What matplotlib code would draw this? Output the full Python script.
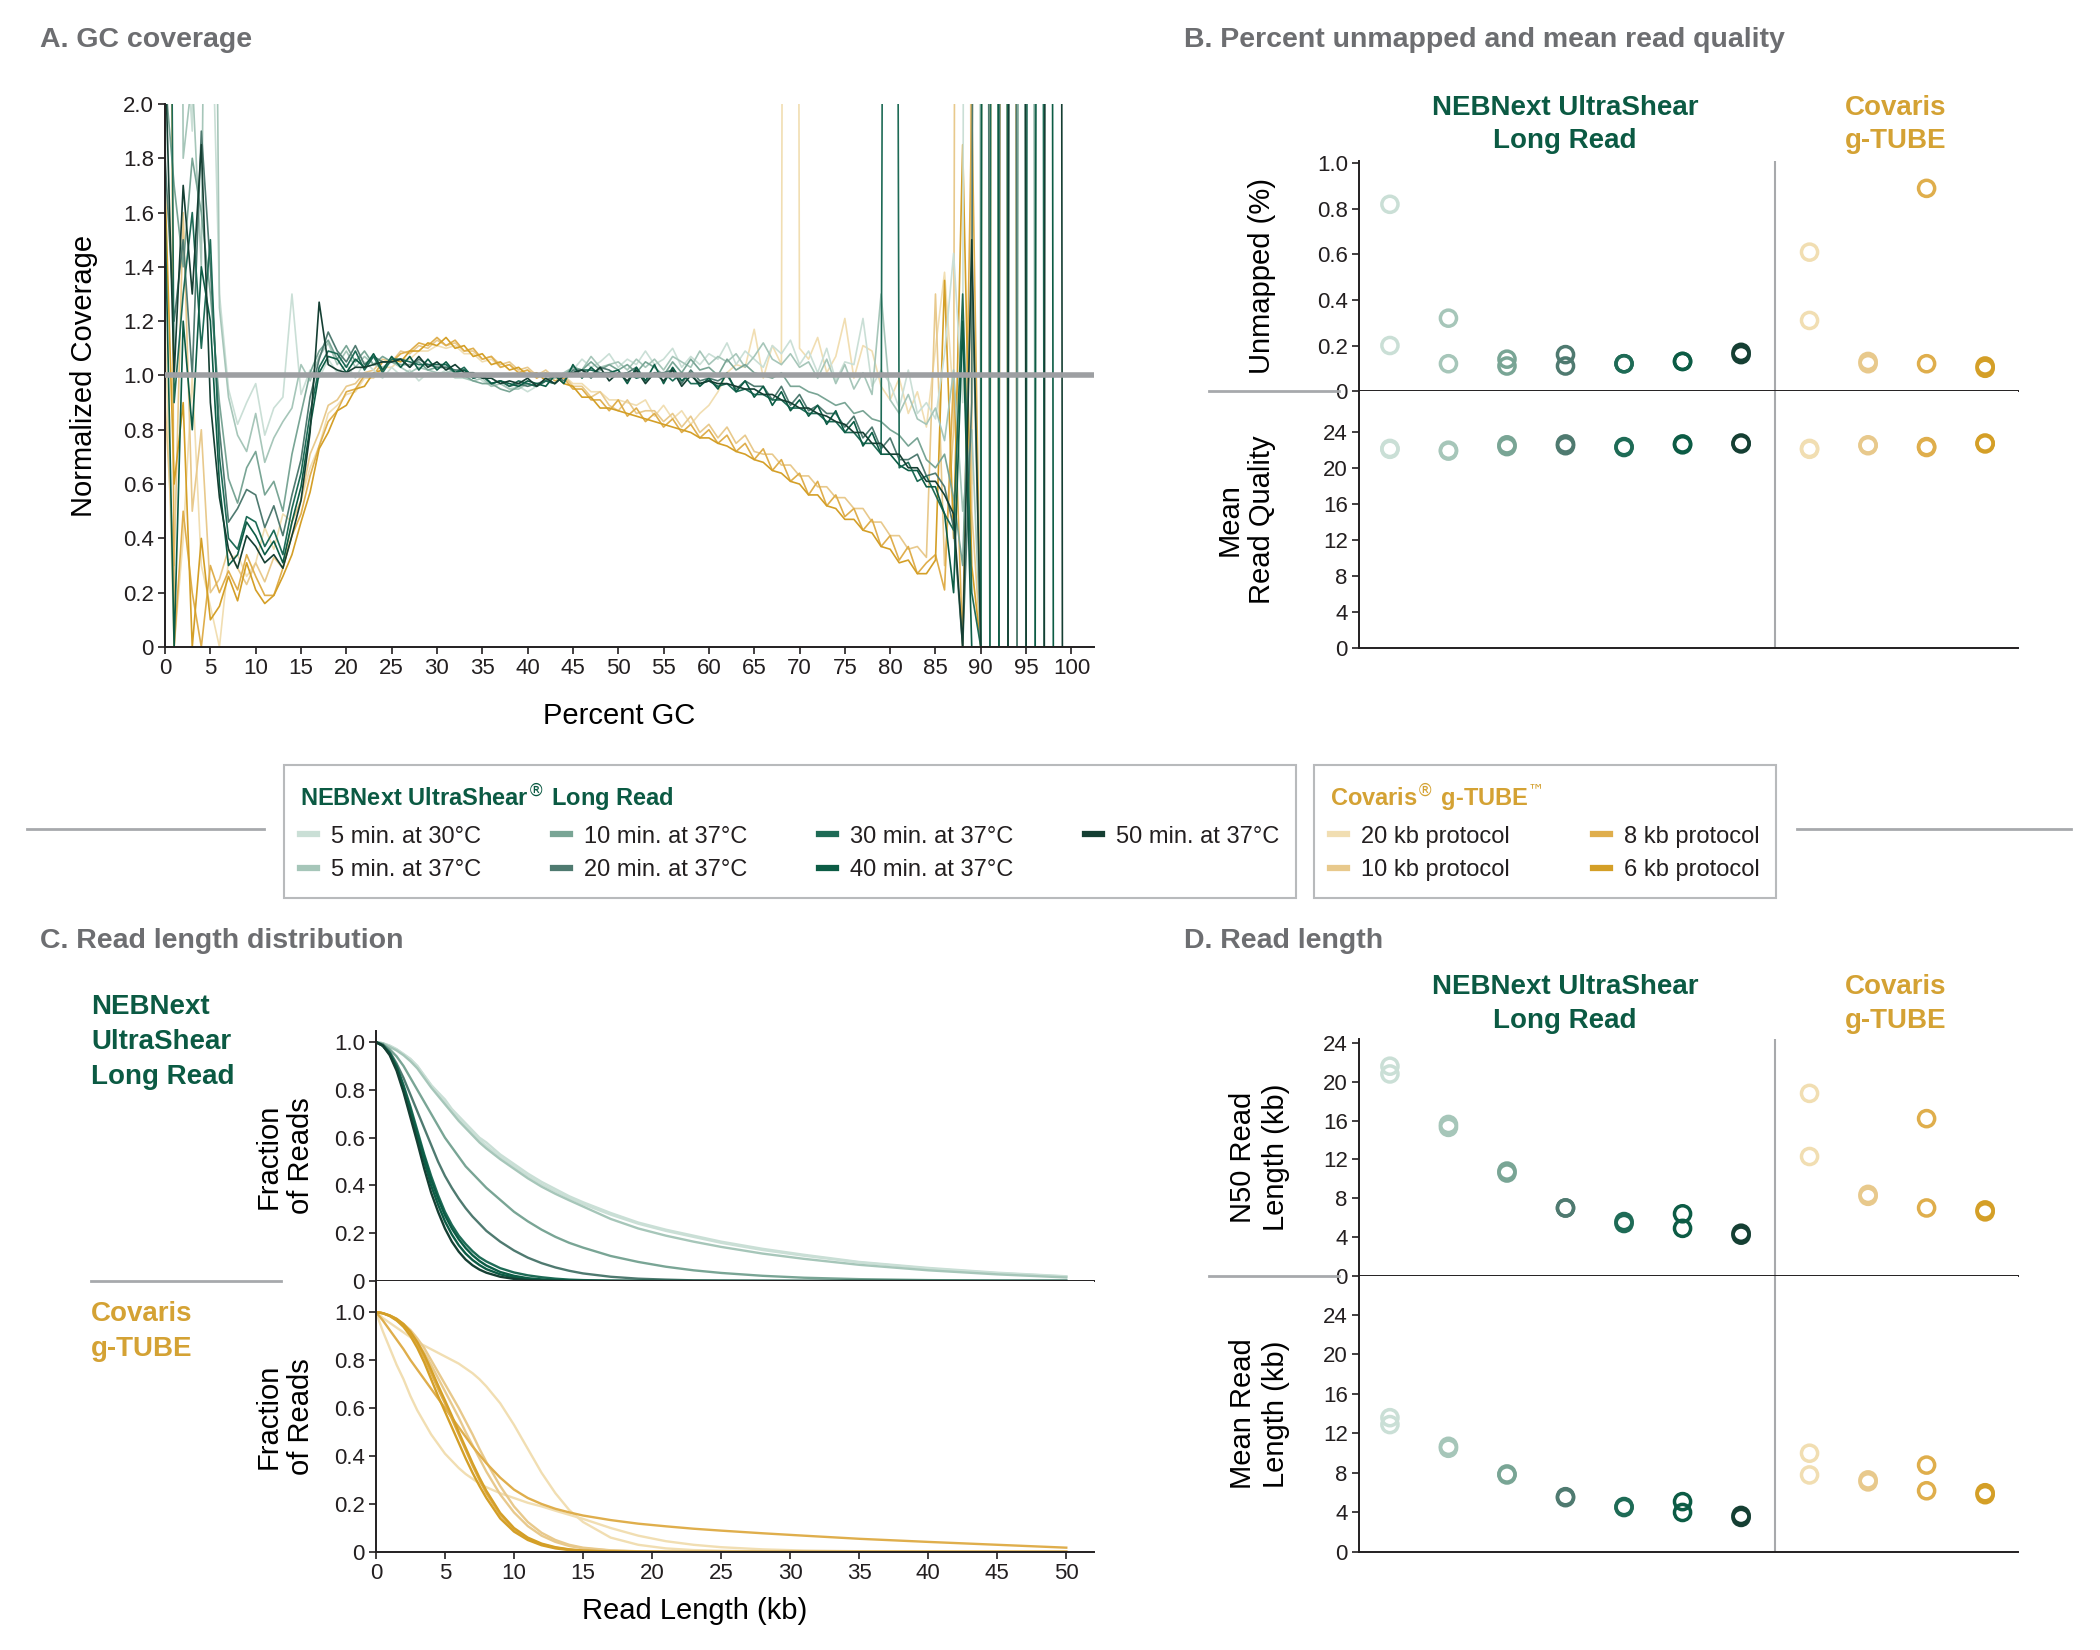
import matplotlib.pyplot as plt
import numpy as np
from matplotlib.lines import Line2D

INK = "#231f20"
GREY = "#6d6e71"
RULE = "#a7a9ac"
NEB_GREEN = "#0b5a43"
COVARIS_GOLD = "#d4a234"

plt.rcParams["font.family"] = ["Liberation Sans", "DejaVu Sans"]
plt.rcParams["axes.linewidth"] = 1.4
plt.rcParams["axes.edgecolor"] = INK
plt.rcParams["xtick.color"] = INK
plt.rcParams["ytick.color"] = INK
plt.rcParams["xtick.major.width"] = 1.2
plt.rcParams["ytick.major.width"] = 1.2
plt.rcParams["xtick.major.size"] = 5
plt.rcParams["ytick.major.size"] = 5
plt.rcParams["xtick.labelsize"] = 16
plt.rcParams["ytick.labelsize"] = 16
plt.rcParams["text.color"] = INK

# ---------------- data ----------------
neb_labels = ["5 min. at 30°C", "5 min. at 37°C", "10 min. at 37°C", "20 min. at 37°C",
              "30 min. at 37°C", "40 min. at 37°C", "50 min. at 37°C"]
covaris_labels = ["20 kb protocol", "10 kb protocol", "8 kb protocol", "6 kb protocol"]
neb_colors = ["#cadfd6", "#a6c6b9", "#79a595", "#4f7a70", "#1e6b56", "#0c5c45", "#153f33"]
covaris_colors = ["#f1deb2", "#e8c98c", "#dfae4c", "#d49f27"]

# A. normalized coverage per percent GC (0..99)
gc_percent = list(range(100))

gc_neb_5min_30c = [
    3.5, 6.0, 2.4, 1.9, 8.0, 2.6, 1.3, 0.95, 0.82, 0.9,
    0.97, 0.78, 0.88, 0.92, 1.3, 0.93, 1.02, 0.99, 1.06, 1.01,
    1.04, 0.99, 1.05, 1.02, 0.99, 1.03, 1.0, 1.02, 0.98, 1.01,
    1.0, 1.02, 0.99, 0.99, 1.01, 0.98, 0.96, 0.97, 0.95, 0.96,
    0.94, 0.96, 0.98, 0.97, 1.0, 1.02, 1.06, 1.03, 1.05, 1.08,
    1.03, 1.06, 1.04, 1.09, 1.04, 1.06, 1.1, 1.03, 1.07, 1.04,
    1.08, 1.06, 1.12, 1.04, 1.09, 1.06, 1.03, 1.11, 1.08, 1.13,
    1.04, 1.09, 1.01, 1.1, 0.98, 1.05, 1.04, 1.21, 0.96, 1.02,
    0.97, 0.88, 1.02, 0.86, 0.9, 0.84, 1.08, 1.45, 0.9, 18.0,
    0.0, 0.0, 22.0, 0.0, 0.0, 0.0, 0.0, 0.0, 0.0, 0.0,
]
gc_neb_5min_37c = [
    1.5, 9.0, 1.8, 2.1, 1.4, 5.0, 1.25, 0.92, 0.78, 0.72,
    0.86, 0.68, 0.77, 0.83, 0.88, 1.04, 0.98, 1.07, 1.12, 1.04,
    1.09, 1.03, 1.07, 1.04, 1.03, 1.05, 1.03, 1.01, 1.03, 1.02,
    1.01, 1.01, 1.02, 0.99, 0.98, 0.99, 0.96, 0.97, 0.95, 0.95,
    0.97, 0.96, 0.98, 0.99, 1.01, 1.03, 1.02, 1.07, 1.03, 1.04,
    1.05, 1.02, 1.06, 1.03, 1.06, 1.02, 1.07, 1.05, 1.03, 1.09,
    1.04, 1.07, 1.05, 1.08, 1.03, 1.07, 1.12, 1.06, 1.04, 1.08,
    1.03, 1.05, 0.99, 1.06, 0.97, 1.04, 0.95, 1.01, 0.93, 1.3,
    0.91, 0.86, 0.93, 0.84, 0.82, 0.88, 0.76, 1.02, 0.5, 0.8,
    0.0, 20.0, 0.0, 0.0, 18.0, 0.0, 0.0, 0.0, 0.0, 0.0,
]
gc_neb_10min = [
    2.1, 1.7, 1.4, 1.8, 1.6, 1.3, 0.9, 0.62, 0.53, 0.66,
    0.72, 0.56, 0.61, 0.5, 0.71, 0.86, 1.01, 1.09, 1.13, 1.06,
    1.11, 1.05, 1.09, 1.04, 1.07, 1.05, 1.04, 1.04, 1.05, 1.02,
    1.03, 1.03, 1.01, 1.0, 0.98, 0.97, 0.97, 0.95, 0.94, 0.96,
    0.97, 0.96, 0.98, 0.97, 1.0, 1.03, 1.02, 1.05, 1.02, 1.04,
    1.02, 1.04, 1.01, 1.05, 1.03, 1.0, 1.05, 1.01, 1.06, 1.02,
    1.03, 1.0, 1.06, 1.02, 1.04, 1.01, 1.0, 0.99, 1.01, 0.96,
    0.96, 0.94, 0.93, 0.91, 0.89, 0.9, 0.86, 0.87, 0.84, 0.83,
    0.8, 0.78, 0.74, 0.77, 0.69, 0.66, 0.71, 0.55, 0.3, 1.4,
    0.0, 25.0, 0.0, 0.0, 0.0, 20.0, 0.0, 0.0, 0.0, 0.0,
]
gc_neb_20min = [
    1.8, 1.2, 1.5, 1.0, 1.9, 1.4, 0.8, 0.46, 0.51, 0.58,
    0.56, 0.44, 0.52, 0.41, 0.56, 0.69, 0.92, 1.06, 1.16, 1.09,
    1.05, 1.11, 1.04, 1.07, 1.05, 1.05, 1.06, 1.03, 1.06, 1.04,
    1.03, 1.03, 1.02, 1.02, 0.99, 1.0, 0.97, 0.98, 0.96, 0.97,
    0.96, 0.97, 0.98, 1.0, 0.98, 1.02, 1.02, 0.99, 1.03, 1.02,
    1.0, 1.01, 1.03, 0.98, 1.01, 1.01, 1.02, 0.97, 1.02, 0.98,
    0.99, 0.98, 1.0, 0.95, 0.98, 0.96, 0.96, 0.91, 0.96, 0.89,
    0.93, 0.87, 0.89, 0.86, 0.86, 0.81, 0.85, 0.77, 0.81, 0.73,
    0.77, 0.69, 0.69, 0.71, 0.63, 0.64, 0.59, 0.44, 0.0, 0.9,
    16.0, 0.0, 0.0, 24.0, 0.0, 0.0, 0.0, 0.0, 0.0, 0.0,
]
gc_neb_30min = [
    6.0, 0.9, 1.3, 1.6, 1.1, 1.5, 0.7, 0.4, 0.36, 0.48,
    0.46, 0.37, 0.43, 0.34, 0.51, 0.64, 0.86, 1.03, 1.09, 1.08,
    1.03, 1.09, 1.02, 1.07, 1.01, 1.06, 1.06, 1.05, 1.04, 1.04,
    1.04, 1.04, 1.01, 1.03, 0.99, 1.0, 0.97, 0.98, 0.96, 0.98,
    0.97, 0.96, 0.98, 0.97, 1.0, 1.01, 1.02, 1.02, 1.01, 1.01,
    1.0, 1.01, 0.99, 1.0, 1.0, 1.01, 0.98, 1.01, 0.97, 0.97,
    0.98, 0.96, 0.97, 0.94, 0.95, 0.93, 0.93, 0.91, 0.91, 0.88,
    0.88, 0.86, 0.86, 0.83, 0.83, 0.79, 0.79, 0.75, 0.75, 0.71,
    12.0, 0.66, 0.68, 0.61, 0.63, 0.56, 0.49, 0.43, 1.3, 0.2,
    0.0, 0.0, 28.0, 0.0, 0.0, 0.0, 22.0, 0.0, 0.0, 0.0,
]
gc_neb_40min = [
    1.6, 0.0, 1.2, 0.8, 1.4, 1.2, 0.6, 0.3, 0.34, 0.46,
    0.41, 0.34, 0.39, 0.31, 0.46, 0.59, 0.81, 1.01, 1.07, 1.06,
    1.01, 1.06, 1.03, 1.08, 1.02, 1.07, 1.03, 1.07, 1.02, 1.06,
    1.02, 1.05, 1.01, 1.02, 1.0, 1.0, 0.97, 0.98, 0.97, 0.96,
    0.98, 0.97, 0.96, 1.0, 0.97, 1.04, 0.99, 1.03, 1.0, 1.01,
    1.02, 0.97, 1.03, 0.98, 1.04, 0.97, 1.03, 0.98, 1.01, 0.96,
    0.99, 0.95, 1.01, 0.94, 0.98, 0.92, 0.96, 0.89, 0.94, 0.87,
    0.91, 0.85, 0.89, 0.82, 0.87, 0.79, 0.83, 0.74, 0.79, 0.71,
    0.71, 0.67, 0.65, 0.65, 0.59, 0.59, 0.49, 0.2, 1.2, 0.0,
    0.0, 30.0, 0.0, 0.0, 0.0, 0.0, 0.0, 25.0, 0.0, 0.0,
]
gc_neb_50min = [
    2.2, 1.0, 1.7, 1.3, 1.85, 0.9, 0.55, 0.36, 0.29, 0.41,
    0.37, 0.31, 0.34, 0.29, 0.41, 0.54, 0.79, 1.27, 1.04, 1.02,
    1.01, 1.03, 1.03, 1.04, 1.05, 1.05, 1.06, 1.03, 1.07, 1.03,
    1.05, 1.02, 1.04, 1.01, 1.01, 0.99, 0.99, 0.97, 0.98, 0.97,
    0.99, 0.96, 0.99, 0.97, 1.0, 1.01, 1.02, 1.0, 1.03, 0.98,
    1.01, 0.98, 1.02, 0.97, 1.01, 0.98, 1.02, 0.96, 1.0, 0.97,
    0.98, 0.97, 0.97, 0.96, 0.95, 0.95, 0.93, 0.93, 0.91, 0.9,
    0.88, 0.88, 0.86, 0.85, 0.83, 0.82, 0.79, 0.79, 0.75, 0.75,
    0.71, 0.71, 0.66, 0.66, 0.61, 0.61, 0.56, 0.49, 0.0, 1.5,
    0.0, 0.0, 0.0, 0.0, 26.0, 0.0, 0.0, 0.0, 30.0, 0.0,
]
gc_cov_20kb = [
    1.2, 0.0, 0.4, 1.0, 0.3, 0.15, 0.0, 0.32, 0.34, 0.26,
    0.31, 0.44, 0.36, 0.49, 0.46, 0.54, 0.66, 0.74, 0.86, 0.89,
    0.93, 0.94, 0.99, 0.99, 1.03, 1.03, 1.06, 1.06, 1.09, 1.09,
    1.11, 1.1, 1.11, 1.08, 1.08, 1.05, 1.06, 1.03, 1.04, 1.01,
    1.02, 1.0, 1.01, 0.99, 1.0, 0.97, 0.97, 0.94, 0.94, 0.91,
    0.91, 0.9, 0.89, 0.91, 0.85, 0.89, 0.84, 0.87, 0.82, 0.86,
    0.89, 0.94, 1.01, 1.04, 1.03, 1.17, 0.99, 1.11, 1.04, 15.0,
    1.1, 1.06, 1.14, 1.01, 1.07, 1.21, 0.99, 1.11, 1.09, 0.96,
    0.91, 0.99, 0.86, 0.94, 0.81, 1.1, 1.38, 0.9, 1.0, 0.6,
    20.0, 0.0, 0.0, 0.0, 0.0, 0.0, 0.0, 0.0, 0.0, 0.0,
]
gc_cov_10kb = [
    0.9, 0.3, 1.6, 0.5, 0.8, 0.2, 0.25, 0.36, 0.29, 0.23,
    0.31, 0.24, 0.33, 0.29, 0.46, 0.54, 0.71, 0.79, 0.89, 0.91,
    0.96, 0.97, 1.01, 1.02, 1.06, 1.05, 1.09, 1.08, 1.11, 1.1,
    1.13, 1.11, 1.12, 1.09, 1.09, 1.06, 1.07, 1.04, 1.05, 1.02,
    1.03, 1.0, 1.02, 0.99, 1.0, 0.96, 0.96, 0.92, 0.94, 0.89,
    0.87, 0.91, 0.86, 0.87, 0.87, 0.83, 0.86, 0.81, 0.85, 0.79,
    0.82, 0.77, 0.81, 0.75, 0.78, 0.72, 0.71, 0.71, 0.67, 0.67,
    0.63, 0.63, 0.59, 0.59, 0.55, 0.55, 0.51, 0.51, 0.46, 0.46,
    0.41, 0.41, 0.36, 0.37, 0.33, 1.3, 0.3, 0.8, 14.0, 0.5,
    0.0, 18.0, 0.0, 0.0, 0.0, 0.0, 0.0, 0.0, 0.0, 0.0,
]
gc_cov_8kb = [
    9.0, 0.0, 0.5, 0.2, 0.0, 0.3, 0.2, 0.28, 0.21, 0.34,
    0.26, 0.19, 0.19, 0.29, 0.41, 0.49, 0.63, 0.74, 0.83, 0.87,
    0.94, 0.95, 1.0, 1.0, 1.05, 1.05, 1.08, 1.09, 1.12, 1.11,
    1.14, 1.11, 1.13, 1.09, 1.1, 1.06, 1.07, 1.03, 1.04, 1.01,
    1.02, 0.99, 1.01, 0.98, 0.99, 0.95, 0.95, 0.91, 0.91, 0.87,
    0.91, 0.85, 0.88, 0.83, 0.86, 0.81, 0.84, 0.79, 0.82, 0.77,
    0.8, 0.75, 0.78, 0.72, 0.75, 0.69, 0.73, 0.65, 0.69, 0.61,
    0.64, 0.56, 0.61, 0.52, 0.56, 0.48, 0.51, 0.43, 0.47, 0.37,
    0.41, 0.32, 0.37, 0.27, 0.31, 0.34, 0.21, 1.0, 0.0, 2.0,
    0.0, 0.0, 0.0, 20.0, 0.0, 0.0, 0.0, 0.0, 0.0, 0.0,
]
gc_cov_6kb = [
    1.7, 0.6, 0.9, 0.0, 0.4, 0.1, 0.15, 0.26, 0.17, 0.31,
    0.21, 0.16, 0.19, 0.26, 0.34, 0.46, 0.57, 0.73, 0.79, 0.87,
    0.89, 0.95, 0.96, 1.01, 1.02, 1.06, 1.05, 1.09, 1.09, 1.12,
    1.11, 1.14, 1.1, 1.11, 1.07, 1.08, 1.04, 1.05, 1.02, 1.03,
    1.0, 1.01, 0.98, 1.0, 0.97, 0.96, 0.92, 0.92, 0.88, 0.88,
    0.87, 0.86, 0.85, 0.84, 0.83, 0.82, 0.81, 0.8, 0.79, 0.77,
    0.77, 0.75, 0.74, 0.72, 0.71, 0.69, 0.68, 0.65, 0.64, 0.61,
    0.6, 0.56, 0.56, 0.52, 0.51, 0.47, 0.47, 0.43, 0.42, 0.37,
    0.36, 0.31, 0.32, 0.27, 0.27, 0.32, 1.35, 0.4, 1.85, 0.3,
    0.0, 0.0, 19.0, 0.0, 0.0, 0.0, 0.0, 0.0, 0.0, 0.0,
]

# B. percent unmapped and mean read quality (two replicates, NEB then Covaris)
unmapped_r1 = [0.82, 0.32, 0.14, 0.16, 0.12, 0.13, 0.16, 0.61, 0.13, 0.89, 0.10]
unmapped_r2 = [0.20, 0.12, 0.11, 0.11, 0.12, 0.13, 0.17, 0.31, 0.12, 0.12, 0.11]
quality_r1 = [22.1, 22.0, 22.6, 22.7, 22.4, 22.7, 22.8, 22.2, 22.6, 22.4, 22.8]
quality_r2 = [22.2, 21.9, 22.4, 22.5, 22.3, 22.6, 22.7, 22.1, 22.5, 22.3, 22.7]

# C. fraction of reads longer than a given read length
read_length_kb = [0, 0.5, 1, 1.5, 2, 2.5, 3, 3.5, 4, 4.5, 5, 5.5, 6, 6.5, 7, 7.5, 8,
                  9, 10, 11, 12, 13, 14, 15, 17, 19, 21, 23, 25, 28, 31, 35, 40, 45, 50]

frac_neb_5min_30c_r1 = [1.0, 0.995, 0.985, 0.97, 0.95, 0.93, 0.9, 0.86, 0.82, 0.79,
                        0.76, 0.72, 0.69, 0.66, 0.63, 0.6, 0.58, 0.53, 0.49, 0.45,
                        0.415, 0.385, 0.355, 0.33, 0.285, 0.245, 0.215, 0.19, 0.165, 0.135,
                        0.11, 0.08, 0.055, 0.035, 0.02]
frac_neb_5min_30c_r2 = [1.0, 0.995, 0.985, 0.97, 0.95, 0.928, 0.9, 0.86, 0.82, 0.785,
                        0.75, 0.715, 0.68, 0.65, 0.62, 0.592, 0.566, 0.52, 0.48, 0.44,
                        0.405, 0.375, 0.347, 0.322, 0.278, 0.24, 0.21, 0.185, 0.16, 0.13,
                        0.106, 0.078, 0.052, 0.033, 0.019]
frac_neb_5min_37c = [1.0, 0.995, 0.98, 0.965, 0.945, 0.92, 0.89, 0.85, 0.81, 0.775,
                     0.74, 0.705, 0.67, 0.64, 0.61, 0.58, 0.555, 0.51, 0.47, 0.43,
                     0.395, 0.365, 0.338, 0.312, 0.26, 0.22, 0.19, 0.165, 0.143, 0.115,
                     0.093, 0.068, 0.045, 0.028, 0.015]
frac_neb_10min = [1.0, 0.99, 0.97, 0.94, 0.9, 0.85, 0.8, 0.75, 0.7, 0.65,
                  0.6, 0.56, 0.52, 0.48, 0.45, 0.42, 0.39, 0.34, 0.29, 0.25,
                  0.215, 0.185, 0.16, 0.14, 0.105, 0.08, 0.06, 0.045, 0.034, 0.022,
                  0.014, 0.008, 0.004, 0.002, 0.001]
frac_neb_20min = [1.0, 0.99, 0.96, 0.91, 0.85, 0.78, 0.71, 0.64, 0.57, 0.5,
                  0.44, 0.39, 0.345, 0.305, 0.27, 0.24, 0.21, 0.165, 0.128, 0.098,
                  0.075, 0.057, 0.043, 0.032, 0.018, 0.01, 0.006, 0.003, 0.002, 0.001,
                  0.0, 0.0, 0.0, 0.0, 0.0]
frac_neb_30min = [1.0, 0.985, 0.955, 0.9, 0.82, 0.73, 0.63, 0.53, 0.44, 0.36,
                  0.29, 0.235, 0.19, 0.155, 0.125, 0.1, 0.082, 0.054, 0.036, 0.024,
                  0.016, 0.01, 0.006, 0.004, 0.002, 0.001, 0.0, 0.0, 0.0, 0.0,
                  0.0, 0.0, 0.0, 0.0, 0.0]
frac_neb_40min_r1 = [1.0, 0.985, 0.95, 0.89, 0.8, 0.7, 0.6, 0.5, 0.4, 0.32,
                     0.25, 0.195, 0.15, 0.115, 0.088, 0.067, 0.05, 0.028, 0.015, 0.008,
                     0.004, 0.002, 0.001, 0.0, 0.0, 0.0, 0.0, 0.0, 0.0, 0.0,
                     0.0, 0.0, 0.0, 0.0, 0.0]
frac_neb_40min_r2 = [1.0, 0.985, 0.953, 0.895, 0.81, 0.715, 0.615, 0.52, 0.425, 0.345,
                     0.275, 0.22, 0.175, 0.138, 0.108, 0.084, 0.065, 0.038, 0.022, 0.012,
                     0.007, 0.004, 0.002, 0.001, 0.0, 0.0, 0.0, 0.0, 0.0, 0.0,
                     0.0, 0.0, 0.0, 0.0, 0.0]
frac_neb_50min = [1.0, 0.985, 0.945, 0.88, 0.79, 0.685, 0.58, 0.47, 0.37, 0.29,
                  0.22, 0.165, 0.123, 0.09, 0.066, 0.048, 0.035, 0.018, 0.009, 0.004,
                  0.002, 0.001, 0.0, 0.0, 0.0, 0.0, 0.0, 0.0, 0.0, 0.0,
                  0.0, 0.0, 0.0, 0.0, 0.0]

frac_cov_20kb_r1 = [1.0, 0.975, 0.955, 0.935, 0.915, 0.895, 0.875, 0.86, 0.845, 0.83,
                    0.815, 0.8, 0.785, 0.765, 0.745, 0.72, 0.69, 0.62, 0.53, 0.43,
                    0.33, 0.245, 0.175, 0.125, 0.06, 0.03, 0.015, 0.008, 0.005, 0.003,
                    0.002, 0.001, 0.0, 0.0, 0.0]
frac_cov_20kb_r2 = [1.0, 0.92, 0.85, 0.78, 0.72, 0.65, 0.59, 0.54, 0.49, 0.45,
                    0.41, 0.38, 0.35, 0.325, 0.305, 0.285, 0.27, 0.245, 0.225, 0.205,
                    0.19, 0.172, 0.155, 0.138, 0.1, 0.068, 0.045, 0.03, 0.02, 0.011,
                    0.006, 0.003, 0.002, 0.001, 0.001]
frac_cov_10kb_r1 = [1.0, 0.995, 0.985, 0.97, 0.95, 0.925, 0.89, 0.85, 0.8, 0.75,
                    0.7, 0.65, 0.6, 0.545, 0.49, 0.43, 0.375, 0.275, 0.19, 0.125,
                    0.08, 0.05, 0.03, 0.018, 0.007, 0.003, 0.001, 0.0, 0.0, 0.0,
                    0.0, 0.0, 0.0, 0.0, 0.0]
frac_cov_10kb_r2 = [1.0, 0.995, 0.985, 0.965, 0.945, 0.915, 0.875, 0.83, 0.78, 0.725,
                    0.67, 0.615, 0.56, 0.5, 0.445, 0.39, 0.335, 0.24, 0.165, 0.108,
                    0.068, 0.042, 0.025, 0.015, 0.006, 0.002, 0.001, 0.0, 0.0, 0.0,
                    0.0, 0.0, 0.0, 0.0, 0.0]
frac_cov_8kb_r1 = [1.0, 0.965, 0.925, 0.885, 0.845, 0.8, 0.76, 0.72, 0.68, 0.64,
                   0.6, 0.56, 0.52, 0.48, 0.44, 0.405, 0.37, 0.31, 0.26, 0.225,
                   0.2, 0.18, 0.165, 0.152, 0.133, 0.118, 0.107, 0.097, 0.089, 0.078,
                   0.068, 0.055, 0.042, 0.03, 0.018]
frac_cov_8kb_r2 = [1.0, 0.995, 0.985, 0.97, 0.945, 0.91, 0.865, 0.81, 0.745, 0.68,
                   0.62, 0.555, 0.49, 0.425, 0.36, 0.3, 0.245, 0.155, 0.095, 0.056,
                   0.032, 0.018, 0.01, 0.005, 0.002, 0.001, 0.0, 0.0, 0.0, 0.0,
                   0.0, 0.0, 0.0, 0.0, 0.0]
frac_cov_6kb_r1 = [1.0, 0.995, 0.983, 0.965, 0.938, 0.9, 0.85, 0.79, 0.72, 0.65,
                   0.585, 0.52, 0.455, 0.39, 0.33, 0.275, 0.225, 0.14, 0.085, 0.05,
                   0.028, 0.015, 0.008, 0.004, 0.001, 0.0, 0.0, 0.0, 0.0, 0.0,
                   0.0, 0.0, 0.0, 0.0, 0.0]
frac_cov_6kb_r2 = [1.0, 0.995, 0.986, 0.972, 0.95, 0.918, 0.875, 0.822, 0.76, 0.695,
                   0.632, 0.568, 0.5, 0.435, 0.37, 0.31, 0.255, 0.163, 0.1, 0.06,
                   0.035, 0.02, 0.011, 0.006, 0.002, 0.001, 0.0, 0.0, 0.0, 0.0,
                   0.0, 0.0, 0.0, 0.0, 0.0]

# D. N50 and mean read length in kb (two replicates, NEB then Covaris)
n50_r1 = [21.6, 15.6, 10.8, 7.0, 5.6, 6.4, 4.4, 18.8, 8.4, 16.2, 6.8]
n50_r2 = [20.8, 15.3, 10.6, 7.0, 5.4, 4.9, 4.2, 12.3, 8.2, 7.0, 6.6]
mean_len_r1 = [13.6, 10.7, 7.9, 5.6, 4.6, 5.1, 3.7, 10.0, 7.3, 8.8, 6.0]
mean_len_r2 = [12.9, 10.5, 7.8, 5.5, 4.5, 4.0, 3.5, 7.8, 7.1, 6.2, 5.8]


# ---------------- drawing ----------------
def figure_rule(fig, x0, x1, y0, y1):
    fig.add_artist(Line2D([x0, x1], [y0, y1], transform=fig.transFigure,
                          color=RULE, lw=2))


def clean_axes(ax):
    ax.spines["top"].set_visible(False)
    ax.spines["right"].set_visible(False)
    ax.tick_params(pad=3)


def plot_gc_coverage(ax):
    covaris_series = [gc_cov_20kb, gc_cov_10kb, gc_cov_8kb, gc_cov_6kb]
    neb_series = [gc_neb_5min_30c, gc_neb_5min_37c, gc_neb_10min, gc_neb_20min,
                  gc_neb_30min, gc_neb_40min, gc_neb_50min]
    for values, color in zip(covaris_series, covaris_colors):
        ax.plot(gc_percent, values, color=color, lw=1.2)
    for values, color in zip(neb_series, neb_colors):
        ax.plot(gc_percent, values, color=color, lw=1.2)
    ax.axhline(1.0, color="#9d9fa2", lw=4, zorder=5)

    ax.set_xlim(0, 102.5)
    ax.set_ylim(0, 2.0)
    ax.set_xticks(range(0, 101, 5))
    ax.set_yticks(np.arange(0, 2.01, 0.2))
    ax.set_yticklabels(["0"] + [f"{v:.1f}" for v in np.arange(0.2, 2.01, 0.2)])
    clean_axes(ax)
    ax.set_ylabel("Normalized Coverage", fontsize=21)
    ax.yaxis.set_label_coords(-0.072, 0.5)
    ax.set_xlabel("Percent GC", fontsize=21)
    ax.xaxis.set_label_coords(0.489, -0.101)


def plot_dots(ax, rep1, rep2, xs, colors):
    for values in (rep1, rep2):
        ax.scatter(xs, values, s=135, facecolors="none", edgecolors=colors,
                   linewidths=2.5, clip_on=False, zorder=3)


def plot_dot_panel(ax_top, ax_bottom, top_r1, top_r2, bottom_r1, bottom_r2,
                   top_ticks, top_labels, top_ylim, bottom_ylim, top_label, bottom_label,
                   label_x):
    n_neb = len(neb_labels)
    xs = np.r_[np.arange(n_neb), n_neb + 0.17 + np.arange(len(covaris_labels))]
    colors = neb_colors + covaris_colors
    split = (xs[n_neb - 1] + xs[n_neb]) / 2

    for ax in (ax_top, ax_bottom):
        clean_axes(ax)
        ax.set_xlim(-0.53, 10.73)
        ax.set_xticks([])
        ax.axvline(split, color=RULE, lw=1.5, zorder=1)

    plot_dots(ax_top, top_r1, top_r2, xs, colors)
    plot_dots(ax_bottom, bottom_r1, bottom_r2, xs, colors)

    ax_top.set_ylim(*top_ylim)
    ax_top.set_yticks(top_ticks)
    ax_top.set_yticklabels(top_labels)
    ax_bottom.set_ylim(*bottom_ylim)
    ax_bottom.set_yticks(range(0, 25, 4))

    ax_top.set_ylabel(top_label, fontsize=21)
    ax_top.yaxis.set_label_coords(label_x, 0.5)
    ax_bottom.set_ylabel(bottom_label, fontsize=21)
    ax_bottom.yaxis.set_label_coords(label_x, 0.5)


def plot_read_lengths(ax_neb, ax_cov):
    neb_curves = [
        (frac_neb_5min_30c_r1, 0), (frac_neb_5min_30c_r2, 0), (frac_neb_5min_37c, 1),
        (frac_neb_10min, 2), (frac_neb_20min, 3), (frac_neb_30min, 4),
        (frac_neb_40min_r1, 5), (frac_neb_40min_r2, 5), (frac_neb_50min, 6),
    ]
    cov_curves = [
        (frac_cov_20kb_r1, 0), (frac_cov_20kb_r2, 0), (frac_cov_10kb_r1, 1),
        (frac_cov_10kb_r2, 1), (frac_cov_8kb_r1, 2), (frac_cov_8kb_r2, 2),
        (frac_cov_6kb_r1, 3), (frac_cov_6kb_r2, 3),
    ]
    for values, i in neb_curves:
        ax_neb.plot(read_length_kb, values, color=neb_colors[i], lw=1.7)
    for values, i in cov_curves:
        ax_cov.plot(read_length_kb, values, color=covaris_colors[i], lw=1.7)

    for ax in (ax_neb, ax_cov):
        clean_axes(ax)
        ax.set_xlim(0, 52)
        ax.set_yticks(np.arange(0, 1.01, 0.2))
        ax.set_yticklabels(["0", "0.2", "0.4", "0.6", "0.8", "1.0"])
        ax.set_ylabel("Fraction\nof Reads", fontsize=21)
        ax.yaxis.set_label_coords(-0.085, 0.5)
    ax_neb.set_ylim(0, 1.046)
    ax_cov.set_ylim(0, 1.129)
    ax_neb.set_xticks([])
    ax_cov.set_xticks(range(0, 51, 5))
    ax_cov.set_xlabel("Read Length (kb)", fontsize=21)
    ax_cov.xaxis.set_label_coords(0.444, -0.166)


fig = plt.figure(figsize=(21, 16.5), dpi=100)

# panel titles
for x, y, title in [(0.019, 0.9758, "A. GC coverage"),
                    (0.5638, 0.9758, "B. Percent unmapped and mean read quality"),
                    (0.019, 0.4297, "C. Read length distribution"),
                    (0.5638, 0.4297, "D. Read length")]:
    fig.text(x, y, title, fontsize=20.5, weight="bold", color=GREY, va="center")

ax_gc = fig.add_axes([0.0786, 0.6079, 0.4424, 0.3291])
plot_gc_coverage(ax_gc)

ax_unmapped = fig.add_axes([0.6471, 0.7630, 0.3138, 0.1394])
ax_quality = fig.add_axes([0.6471, 0.6073, 0.3138, 0.1558])
plot_dot_panel(ax_unmapped, ax_quality, unmapped_r1, unmapped_r2, quality_r1, quality_r2,
               np.arange(0, 1.01, 0.2), ["0", "0.2", "0.4", "0.6", "0.8", "1.0"],
               (0, 1.01), (0, 28.6), "Unmapped (%)", "Mean\nRead Quality", -0.126)

ax_n50 = fig.add_axes([0.6471, 0.2267, 0.3138, 0.1436])
ax_mean_len = fig.add_axes([0.6471, 0.0594, 0.3138, 0.1673])
plot_dot_panel(ax_n50, ax_mean_len, n50_r1, n50_r2, mean_len_r1, mean_len_r2,
               range(0, 25, 4), [str(v) for v in range(0, 25, 4)],
               (0, 24.4), (0, 27.95), "N50 Read\nLength (kb)", "Mean Read\nLength (kb)",
               -0.105)

ax_neb_len = fig.add_axes([0.179, 0.2236, 0.3419, 0.1515])
ax_cov_len = fig.add_axes([0.179, 0.0594, 0.3419, 0.1642])
plot_read_lengths(ax_neb_len, ax_cov_len)

# group headers
for y in (0.9245, 0.3915):
    fig.text(0.7453, y, "NEBNext UltraShear\nLong Read", ha="center", va="center",
             fontsize=20, weight="bold", color=NEB_GREEN, linespacing=1.36)
    fig.text(0.9029, y, "Covaris\ng-TUBE", ha="center", va="center",
             fontsize=20, weight="bold", color=COVARIS_GOLD, linespacing=1.36)
fig.text(0.0433, 0.3685, "NEBNext\nUltraShear\nLong Read", ha="left", va="center",
         fontsize=20, weight="bold", color=NEB_GREEN, linespacing=1.45)
fig.text(0.0433, 0.1933, "Covaris\ng-TUBE", ha="left", va="center",
         fontsize=20, weight="bold", color=COVARIS_GOLD, linespacing=1.45)

# grey rules
figure_rule(fig, 0.5757, 0.6376, 0.7630, 0.7630)
figure_rule(fig, 0.5757, 0.6376, 0.2267, 0.2267)
figure_rule(fig, 0.0433, 0.1338, 0.2236, 0.2236)
figure_rule(fig, 0.0129, 0.1257, 0.4976, 0.4976)
figure_rule(fig, 0.8557, 0.9862, 0.4976, 0.4976)

# legends
legend_style = dict(loc="upper left", mode="expand", alignment="left", frameon=True,
                    fancybox=False, edgecolor=RULE, fontsize=17, title_fontsize=17,
                    handlelength=0.7, handletextpad=0.6, borderpad=0.7,
                    labelspacing=0.5, borderaxespad=0)
leg_neb = fig.legend([Line2D([], [], color=c, lw=4.5) for c in neb_colors], neb_labels,
                     ncol=4, bbox_to_anchor=(0.1352, 0.4588, 0.4819, 0.0776),
                     title="NEBNext UltraShear$^{®}$ Long Read", **legend_style)
leg_cov = fig.legend([Line2D([], [], color=c, lw=4.5) for c in covaris_colors],
                     covaris_labels, ncol=2,
                     bbox_to_anchor=(0.6257, 0.4588, 0.22, 0.0776),
                     title="Covaris$^{®}$ g-TUBE$^{™}$", **legend_style)
for leg, color in ((leg_neb, NEB_GREEN), (leg_cov, COVARIS_GOLD)):
    leg.get_title().set_color(color)
    leg.get_title().set_fontweight("bold")
    leg.get_frame().set_linewidth(1.5)

fig.savefig("out.png", dpi=100)
